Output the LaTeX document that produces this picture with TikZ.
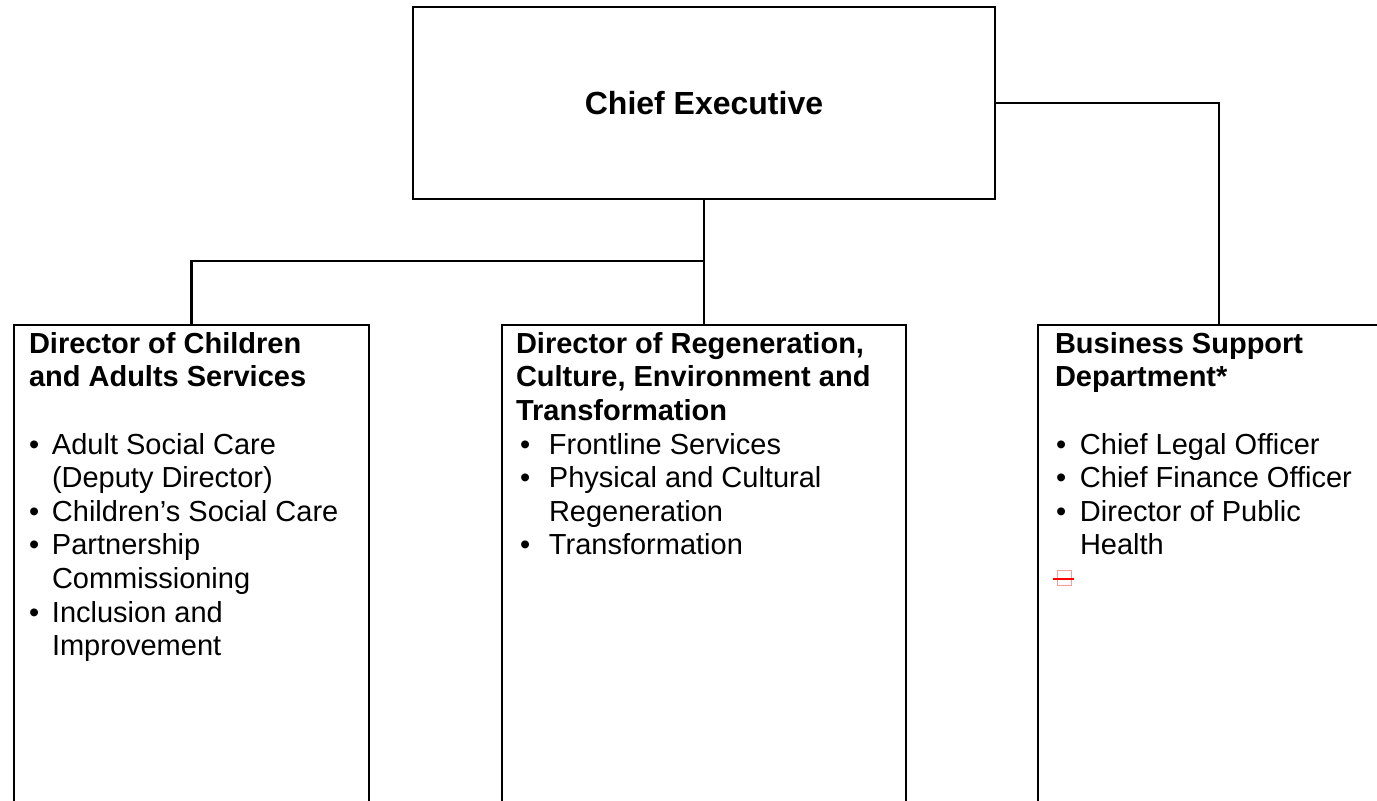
\documentclass[tikz,border=0pt]{standalone}
\usepackage{fontspec}
\setmainfont{Liberation Sans}
\usetikzlibrary{positioning}

\newcommand{\bul}[2]{\hspace*{#1}\makebox[#2][l]{\textbullet}}
\newcommand{\firstline}{\rule{0pt}{22pt}}

\begin{document}
\begin{tikzpicture}[x=1pt, y=-1pt, line width=2.4pt,
    unit/.style={draw, rectangle, inner sep=0pt},
    txt/.style={anchor=north west, align=left, inner sep=0pt,
      font=\fontsize{29}{33.6}\selectfont}]
  \useasboundingbox (0,0) rectangle (1377,801);
  \clip (0,0) rectangle (1377,801);

  % chief executive and the three departments
  \node[unit, minimum width=582pt, minimum height=192pt,
    font=\fontsize{32}{36}\selectfont\bfseries] (chief) at (704,103) {Chief Executive};
  \node[unit, anchor=north, minimum width=355pt, minimum height=700pt] (child) at (191.5,324) {};
  \node[unit, anchor=north, minimum width=404pt, minimum height=700pt] (regen) at (704,324) {};
  \node[unit, anchor=north, minimum width=362pt, minimum height=700pt] (bsd) at (1219,324) {};

  % texts in the boxes
  \node[txt] (childtxt) at ([xshift=15pt, yshift=-6pt]child.north west)
    {\firstline\textbf{Director of Children}\\ \textbf{and Adults Services}\\[33.6pt]
     \bul{0pt}{23pt}Adult Social Care\\ \hspace*{23pt}(Deputy Director)\\
     \bul{0pt}{23pt}Children’s Social Care\\
     \bul{0pt}{23pt}Partnership\\ \hspace*{23pt}Commissioning\\
     \bul{0pt}{23pt}Inclusion and\\ \hspace*{23pt}Improvement};
  \node[txt] (regentxt) at ([xshift=14pt, yshift=-6pt]regen.north west)
    {\firstline\textbf{Director of Regeneration,}\\ \textbf{Culture, Environment and}\\
     \textbf{Transformation}\\
     \bul{4pt}{29pt}Frontline Services\\
     \bul{4pt}{29pt}Physical and Cultural\\ \hspace*{33pt}Regeneration\\
     \bul{4pt}{29pt}Transformation};
  \node[txt] (bsdtxt) at ([xshift=17pt, yshift=-6pt]bsd.north west)
    {\firstline\textbf{Business Support}\\ \textbf{Department*}\\[33.6pt]
     \bul{1pt}{24pt}Chief Legal Officer\\
     \bul{1pt}{24pt}Chief Finance Officer\\
     \bul{1pt}{24pt}Director of Public\\ \hspace*{25pt}Health};

  % connectors
  \coordinate (jn) at (704,261);
  \draw (chief.south) -- (regen.north);
  \draw (jn) -| (child.north);
  \draw (chief.east) -| (bsd.north);

  % red mark
  \draw[red!40, line width=1pt] (1057,570) rectangle (1071,585);
  \draw[red, line width=2pt] (1053,579) -- (1074,579);
\end{tikzpicture}
\end{document}
